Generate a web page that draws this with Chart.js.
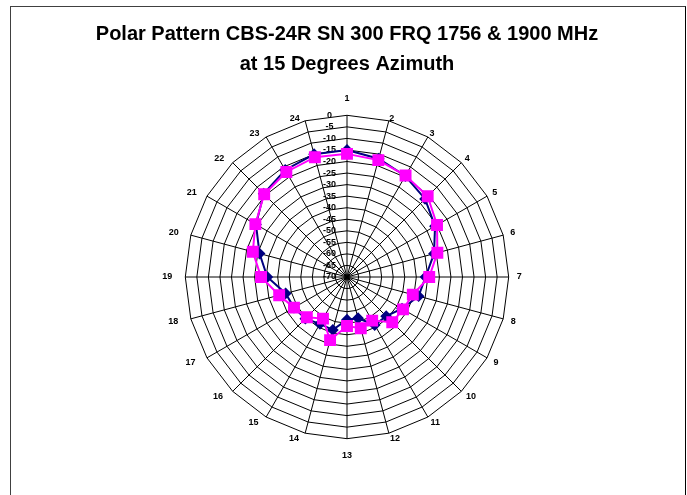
<!DOCTYPE html>
<html>
<head>
<meta charset="utf-8">
<script src="https://cdn.jsdelivr.net/npm/chart.js@4"></script>
<style>
  body { margin: 0; background: #fff; }
  #wrap { position: relative; width: 687px; height: 495px; overflow: hidden; }
  #frame { position: absolute; left: 10px; top: 6px; width: 674px; height: 520px;
           border-top: 1px solid #404040; border-left: 1px solid #404040; border-right: 1px solid #000; }
  #myChart { position: absolute; left: 0; top: 0; }
</style>
</head>
<body>
<div id="wrap">
  <div id="frame"></div>
  <canvas id="myChart" width="687" height="495"></canvas>
</div>
<script>
const azimuthLabels = ['1','2','3','4','5','6','7','8','9','10','11','12',
                       '13','14','15','16','17','18','19','20','21','22','23','24'];
// 1756 MHz (navy diamonds)
const freq1756 = [-15, -17, -19.5, -22.2, -26, -31, -36, -37.9, -42.5, -46, -46, -51.5,
                  -51.5, -46.3, -46.6, -44.5, -43.5, -42.5, -35.5, -30.8, -24.5, -19, -16.5, -15];
// 1900 MHz (magenta squares)
const freq1900 = [-16.7, -17.6, -19.3, -20.6, -25, -29.5, -34.4, -40.5, -42, -42.3, -48.2, -47,
                  -48.8, -41.7, -49.2, -45.4, -43.5, -39.6, -32.8, -27.8, -24.2, -19.3, -17.5, -16.3];
const scaleMin = -70;
const scaleMax = 0;
const scaleStep = 5;

const ctx = document.getElementById('myChart').getContext('2d');
const font = 'Liberation Sans, Arial, sans-serif';

// excel puts the spoke labels just beside the spoke ends, further out at top/bottom
function labelPadding(c) {
  const n = azimuthLabels.length;
  const a = c.index * 2 * Math.PI / n;
  let t;
  if (c.index === 0 || c.index === n / 2) t = 15.5;
  else {
    t = 3 + 5 * Math.abs(Math.sin(a));
    if (Math.cos(a) > 0) t -= 2.5 * Math.cos(a);
  }
  return t - 6.5; // chart.js adds half the tick backdrop height itself
}

const myChart = new Chart(ctx, {
  type: 'radar',
  data: {
    labels: azimuthLabels,
    datasets: [{
      label: '1756 MHz',
      data: freq1756,
      order: 1,
      borderColor: '#000080',
      backgroundColor: '#000080',
      borderWidth: 2,
      pointStyle: 'rectRot',
      pointRadius: 4.5,
      pointBackgroundColor: '#000080',
      pointBorderColor: '#000080',
      fill: false
    }, {
      label: '1900 MHz',
      data: freq1900,
      order: 0,
      borderColor: '#ff00ff',
      backgroundColor: '#ff00ff',
      borderWidth: 2,
      pointStyle: 'rect',
      pointRadius: 7,
      pointBackgroundColor: '#ff00ff',
      pointBorderColor: '#ff00ff',
      fill: false
    }]
  },
  options: {
    responsive: false,
    animation: false,
    layout: { padding: { left: 7, right: 0, top: 0, bottom: 38 } },
    elements: { line: { tension: 0 } },
    plugins: {
      legend: { display: false },
      tooltip: { enabled: false },
      title: {
        display: true,
        text: ['Polar Pattern CBS-24R SN 300 FRQ 1756 & 1900 MHz', 'at 15 Degrees Azimuth'],
        color: '#000',
        font: { family: font, size: 20, weight: 'bold', lineHeight: 1.5 },
        padding: { top: 19, bottom: 20 }
      }
    },
    scales: {
      r: {
        min: scaleMin,
        max: scaleMax,
        angleLines: { color: '#000', lineWidth: 1 },
        grid: { color: '#000', lineWidth: 1 },
        pointLabels: {
          color: '#000',
          padding: labelPadding,
          font: { family: font, size: 9, weight: 'bold', lineHeight: 0.2 },
          // left-hand labels sit a little further out in the original
          callback: (label, i) => (i > azimuthLabels.length / 2 ? label + '  ' : label)
        },
        ticks: {
          stepSize: scaleStep,
          color: '#000',
          showLabelBackdrop: false,
          font: { family: font, size: 9, weight: 'bold' },
          callback: (v) => v + '              '
        }
      }
    }
  }
});
</script>
</body>
</html>
